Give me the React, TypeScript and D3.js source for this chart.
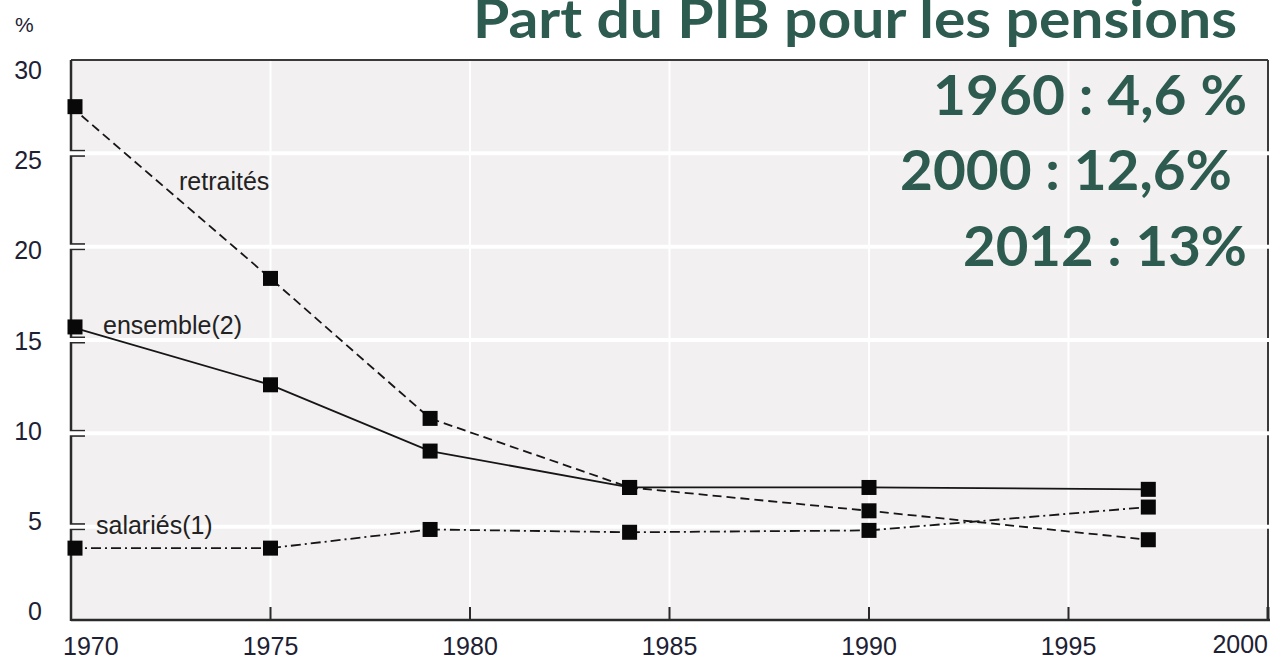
import React from 'react';
import * as d3 from 'd3';

// Values (% of ...)
const years = [1970, 1975, 1979, 1984, 1990, 1997];
const retraites = [27.5, 18.3, 10.8, 7.1, 5.85, 4.3];
const ensemble = [15.7, 12.6, 9.05, 7.1, 7.1, 7.0];
const salaries = [3.85, 3.85, 4.85, 4.7, 4.8, 6.05];

const yTicks = [0, 5, 10, 15, 20, 25, 30];
const xTicks = [1970, 1975, 1980, 1985, 1990, 1995, 2000];

const title = 'Part du PIB pour les pensions';
const headlines = ['1960 : 4,6 %', '2000 : 12,6%', '2012 : 13%'];

const W = 1272;
const H = 660;
const left = 71;
const right = 1268;
const top = 60;
const bottom = 620;

const GREEN = '#2e5b4f';
const INK = '#1d2133';
const LINE = '#161616';

const App: React.FC = () => {
  const x = d3.scaleLinear().domain([1970, 2000]).range([left, right]);
  const y = d3.scaleLinear().domain([0, 30]).range([bottom, top]);
  // tick labels sit slightly off their gridlines in the original
  const yLab = d3.scaleLinear().domain([0, 30]).range([611, 70]);

  const line = d3
    .line<number>()
    .x((_, i) => x(years[i]))
    .y((d) => y(d));

  const series = [
    { name: 'retraités', values: retraites, dash: '9,5', lx: 179, ly: 190 },
    { name: 'ensemble(2)', values: ensemble, dash: null, lx: 103, ly: 334 },
    { name: 'salariés(1)', values: salaries, dash: '10,4,2,4', lx: 96, ly: 534 },
  ];

  const headPos = [
    { xr: 1247, base: 115, len: 314 },
    { xr: 1232, base: 190, len: 332 },
    { xr: 1247, base: 266, len: 284 },
  ];

  return (
    <svg
      width={W}
      height={H}
      style={{ position: 'absolute', left: 0, top: 0, background: '#fff' }}
      fontFamily="'Liberation Sans', Arial, sans-serif"
    >
      {/* plot background */}
      <rect x={left} y={top} width={right - left} height={bottom - top} fill="#f2f0f1" />

      {/* vertical gridlines */}
      {xTicks.slice(1, -1).map((t) => (
        <line key={'vg' + t} x1={x(t)} x2={x(t)} y1={top} y2={bottom - 13} stroke="#fff" strokeWidth={2} />
      ))}

      {/* frame */}
      <line x1={left} x2={right} y1={top} y2={top} stroke="#3a3a3a" strokeWidth={2} />
      <line x1={right} x2={right} y1={top} y2={bottom} stroke="#3a3a3a" strokeWidth={2} />
      <line x1={left} x2={left} y1={top} y2={bottom + 1} stroke="#2a2a2a" strokeWidth={2.5} />
      <line x1={left} x2={right + 2} y1={bottom} y2={bottom} stroke="#2a2a2a" strokeWidth={2.5} />

      {/* x ticks */}
      {xTicks.slice(1).map((t) => (
        <line key={'xt' + t} x1={x(t)} x2={x(t)} y1={bottom - 13} y2={bottom} stroke="#2a2a2a" strokeWidth={t === 2000 ? 3 : 2} />
      ))}

      {/* y ticks */}
      {yTicks.slice(1, -1).map((t) => (
        <line key={'yt' + t} x1={left} x2={left + 14} y1={y(t)} y2={y(t)} stroke="#2a2a2a" strokeWidth={7} />
      ))}

      {/* white horizontal lines crossing the chart */}
      {yTicks.slice(1, -1).map((t) => (
        <line key={'hg' + t} x1={left - 2} x2={W} y1={y(t)} y2={y(t)} stroke="#fff" strokeWidth={4} />
      ))}

      {/* series */}
      {series.map((s) => (
        <g key={s.name}>
          <path
            d={line(s.values) || ''}
            fill="none"
            stroke={LINE}
            strokeWidth={1.8}
            strokeDasharray={s.dash || undefined}
          />
          {s.values.map((v, i) => (
            <rect
              key={i}
              x={x(years[i]) - 7.5 + (i === 0 ? 4 : 0)}
              y={y(v) - 7.5}
              width={15}
              height={15}
              fill="#080808"
            />
          ))}
          <text x={s.lx} y={s.ly} fontSize={25} fill="#222">
            {s.name}
          </text>
        </g>
      ))}

      {/* axis labels */}
      <text x={15} y={32} fontSize={21} fill={INK}>%</text>
      {yTicks.map((t) => (
        <text key={'yl' + t} x={42} y={yLab(t)} dy="0.36em" textAnchor="end" fontSize={25} fill={INK}>
          {t}
        </text>
      ))}
      {xTicks.map((t, i) => {
        const first = i === 0;
        const last = i === xTicks.length - 1;
        return (
          <text
            key={'xl' + t}
            x={first ? 63 : last ? right : x(t)}
            y={last ? 653 : 655}
            textAnchor={first ? 'start' : last ? 'end' : 'middle'}
            fontSize={25}
            fill={INK}
          >
            {t}
          </text>
        );
      })}

      {/* title and headline figures */}
      <text
        x={473}
        y={38}
        fontFamily="Lato, 'Open Sans', sans-serif"
        fontWeight={700}
        fontSize={53}
        fill={GREEN}
        textLength={764}
        lengthAdjust="spacingAndGlyphs"
      >
        {title}
      </text>
      {headlines.map((h, i) => (
        <text
          key={h}
          x={headPos[i].xr - headPos[i].len}
          y={headPos[i].base}
          fontFamily="Lato, 'Open Sans', sans-serif"
          fontWeight={700}
          fontSize={56}
          fill={GREEN}
          textLength={headPos[i].len}
          lengthAdjust="spacingAndGlyphs"
        >
          {h}
        </text>
      ))}
    </svg>
  );
};

export default App;
